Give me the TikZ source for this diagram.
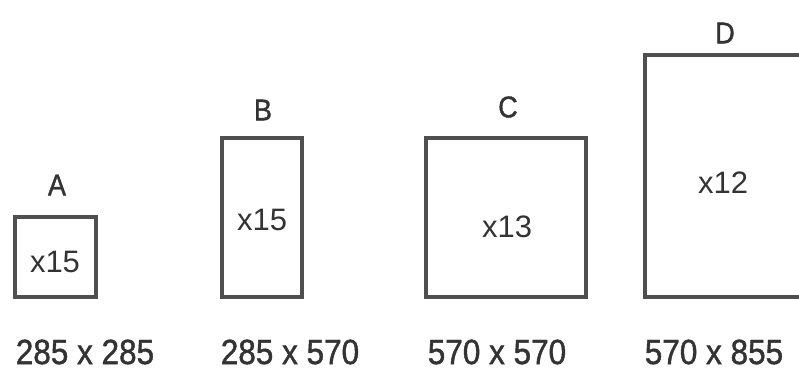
\documentclass[tikz,border=0pt]{standalone}
\usepackage{fontspec}
\setmainfont{Liberation Sans}
\newfontfamily\narrowfont[FakeStretch=0.9,FakeBold=1.2]{Liberation Sans}
\definecolor{framegray}{HTML}{4F4F4F}
\definecolor{textgray}{HTML}{333333}
\tikzset{
  sheet/.style={draw=framegray, line width=4pt, inner sep=0pt},
  letter/.style={text=textgray, inner sep=0pt, font=\narrowfont\fontsize{30}{34}\selectfont},
  count/.style={text=textgray, inner sep=0pt, font=\fontsize{31}{35}\selectfont},
  dims/.style={text=textgray, inner sep=0pt, font=\narrowfont\fontsize{35}{39}\selectfont}
}
\begin{document}
\begin{tikzpicture}[x=1pt,y=-1pt]
  \useasboundingbox (0,0) rectangle (799,369);
  % sheets
  \node[sheet, minimum width=81pt, minimum height=80pt] (boxA) at (55.5,257) {};
  \node[sheet, minimum width=80pt, minimum height=159pt] (boxB) at (262,217.5) {};
  \node[sheet, minimum width=160pt, minimum height=159pt] (boxC) at (506,217.5) {};
  \node[sheet, minimum width=160pt, minimum height=242pt] (boxD) at (725,176) {};
  % names and counts
  \draw
    (57,185) node[letter] (nameA){A}
    (263,110) node[letter] (nameB){B}
    (508,107) node[letter] (nameC){C}
    (725,33) node[letter] (nameD){D};
  \draw
    (55,262) node[count] (cntA){x15}
    (262,220) node[count] (cntB){x15}
    (507,227) node[count] (cntC){x13}
    (723,183) node[count] (cntD){x12};
  % sizes
  \draw
    (85,352) node[dims] (sizeA){285 x 285}
    (290,352) node[dims] (sizeB){285 x 570}
    (497,352) node[dims] (sizeC){570 x 570}
    (714,352) node[dims] (sizeD){570 x 855};
\end{tikzpicture}
\end{document}
